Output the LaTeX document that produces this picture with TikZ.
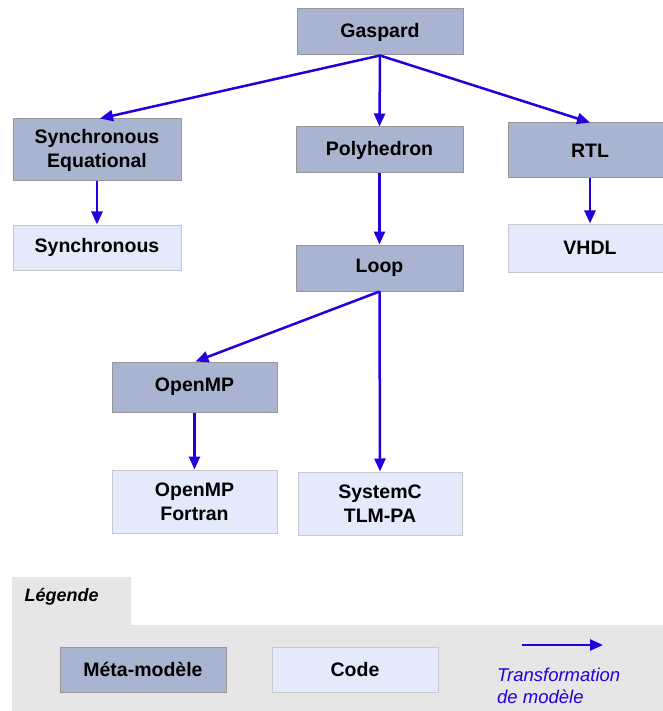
\documentclass[tikz,border=0pt]{standalone}
\usepackage{fontspec}
\setmainfont{Liberation Sans}
\usetikzlibrary{arrows.meta}
\definecolor{metafill}{RGB}{169,180,209}
\definecolor{metaline}{RGB}{150,150,155}
\definecolor{codefill}{RGB}{227,234,251}
\definecolor{codeline}{RGB}{200,200,204}
\definecolor{trblue}{RGB}{34,0,221}
\definecolor{legendgray}{RGB}{230,230,230}
\tikzset{
  meta/.style={draw=metaline, fill=metafill, line width=1pt, inner sep=0pt,
    align=center, font=\fontsize{19.5}{24}\selectfont\bfseries},
  code/.style={draw=codeline, fill=codefill, line width=1pt, inner sep=0pt,
    align=center, font=\fontsize{19.5}{24}\selectfont\bfseries},
  trans/.style={draw=trblue, line width=2.5pt,
    -{Triangle[length=13pt,width=11pt]}},
}
\begin{document}
\begin{tikzpicture}[x=1pt,y=-1pt]
\useasboundingbox (0,0) rectangle (662,711);

% legend background with its tab
\fill[legendgray] (12,577) rectangle (131,626);
\fill[legendgray] (12,625) rectangle (700,740);

% metamodels and code targets
\node[meta, minimum width=166pt, minimum height=46pt] (gaspard) at (380,32) {Gaspard};
\node[meta, minimum width=168pt, minimum height=62pt] (synceq) at (97,150) {Synchronous\\Equational};
\node[meta, minimum width=167pt, minimum height=46pt] (poly) at (379.5,150) {Polyhedron};
\node[meta, minimum width=200pt, minimum height=55pt] (rtl) at (608,150.5) {};
\node[font=\fontsize{19.5}{24}\selectfont\bfseries] (rtltext) at (590,150.5) {RTL};
\node[code, minimum width=168pt, minimum height=45pt] (sync) at (97,247.5) {Synchronous};
\node[meta, minimum width=167pt, minimum height=46pt] (loop) at (379.5,268) {Loop};
\node[code, minimum width=200pt, minimum height=48pt] (vhdl) at (608,248) {};
\node[font=\fontsize{19.5}{24}\selectfont\bfseries] (vhdltext) at (590,248) {VHDL};
\node[meta, minimum width=165pt, minimum height=50pt] (openmp) at (194.5,387) {OpenMP};
\node[code, minimum width=165pt, minimum height=63pt] (fortran) at (194.5,501.5) {OpenMP\\Fortran};
\node[code, minimum width=164pt, minimum height=63pt] (systemc) at (380,503.5) {SystemC\\TLM-PA};

% transformations
\draw[trans] (gaspard.south) -- ([xshift=3pt]synceq.north);
\draw[trans] (gaspard.south) -- (poly.north);
\draw[trans] (gaspard.south) -- ([xshift=-18pt]rtl.north);
\draw[trans] (synceq.south) -- (sync.north);
\draw[trans] (poly.south) -- (loop.north);
\draw[trans] ([xshift=-18pt]rtl.south) -- ([xshift=-18pt]vhdl.north);
\draw[trans] (loop.south) -- ([xshift=1pt]openmp.north);
\draw[trans] (loop.south) -- (systemc.north);
\draw[trans] (openmp.south) -- (fortran.north);

% legend
\node[anchor=west, font=\fontsize{18}{20}\selectfont\bfseries\itshape] (legtitle) at (21,597) {Légende};
\node[meta, minimum width=166pt, minimum height=45pt] (legmeta) at (143,669.5) {Méta-modèle};
\node[code, minimum width=166pt, minimum height=45pt] (legcode) at (355,669.5) {Code};
\coordinate (legA) at (522,645);
\coordinate (legB) at (603,645);
\draw[trans] (legA) -- (legB);
\node[anchor=west, align=left, text=trblue, inner sep=0pt,
  font=\fontsize{18.5}{22}\selectfont\itshape] (legtrans) at (497,686) {Transformation\\de modèle};
\end{tikzpicture}
\end{document}
